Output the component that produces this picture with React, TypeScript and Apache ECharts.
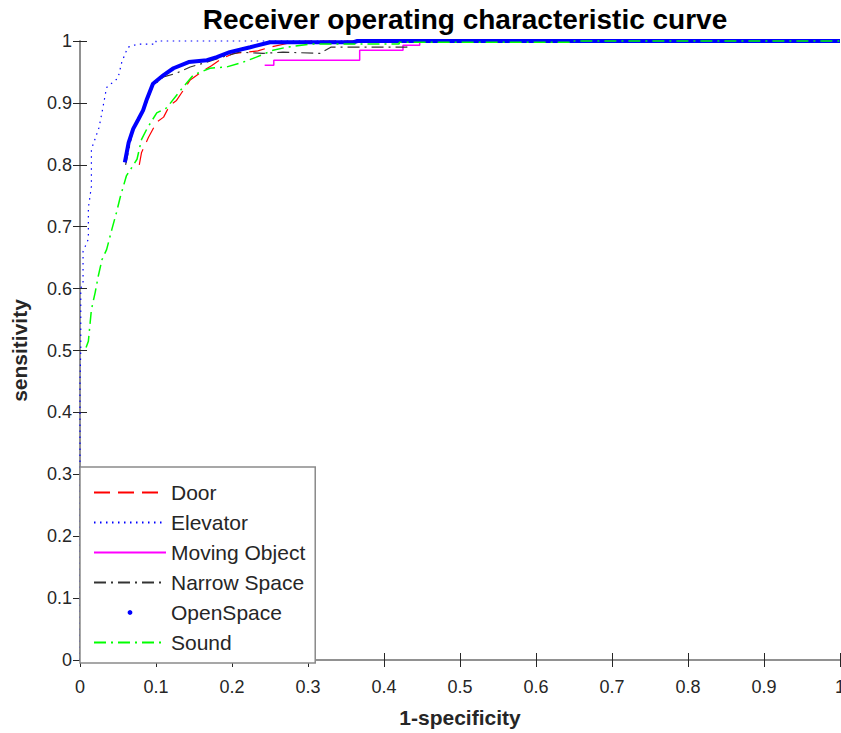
import React, { useEffect, useRef } from "react";
import * as echarts from "echarts";

const seriesNames = ["Door", "Elevator", "Moving Object", "Narrow Space", "OpenSpace", "Sound"];

const doorData: [number, number][] = [
  [0.078, 0.8], [0.081, 0.82], [0.086, 0.833], [0.09, 0.844], [0.101, 0.869], [0.11, 0.877],
  [0.118, 0.896], [0.127, 0.904], [0.145, 0.937], [0.162, 0.952], [0.173, 0.96], [0.186, 0.971],
  [0.202, 0.98], [0.219, 0.982], [0.234, 0.984], [0.25, 0.99], [0.28, 0.998], [0.3, 1], [1, 1],
];

const elevatorData: [number, number][] = [
  [0, 0], [0, 0.3], [0, 0.45], [0.001, 0.5], [0.001, 0.6], [0.004, 0.61], [0.004, 0.66],
  [0.011, 0.68], [0.011, 0.73], [0.015, 0.765], [0.015, 0.825], [0.025, 0.86], [0.029, 0.885],
  [0.035, 0.925], [0.05, 0.94], [0.055, 0.966], [0.063, 0.99], [0.076, 0.995], [0.1, 0.995],
  [0.1, 1], [1, 1],
];

const movingData: [number, number][] = [
  [0.243, 0.961], [0.255, 0.961], [0.255, 0.969], [0.368, 0.969], [0.368, 0.985], [0.425, 0.985],
  [0.425, 0.993], [0.447, 0.993], [0.447, 0.998], [0.64, 0.998], [0.64, 1], [1, 1],
];

const narrowData: [number, number][] = [
  [0.06, 0.8], [0.07, 0.858], [0.083, 0.885], [0.096, 0.928], [0.11, 0.942], [0.127, 0.948],
  [0.145, 0.958], [0.162, 0.964], [0.19, 0.975], [0.21, 0.982], [0.241, 0.98], [0.267, 0.982],
  [0.316, 0.98], [0.33, 0.99], [0.43, 0.99], [0.435, 0.998], [0.75, 0.998], [0.75, 1], [1, 1],
];

const openSpaceData: [number, number][] = [
  [0.059, 0.804], [0.064, 0.836], [0.07, 0.858], [0.077, 0.874], [0.083, 0.888], [0.088, 0.906],
  [0.096, 0.931], [0.11, 0.945], [0.123, 0.956], [0.143, 0.966], [0.167, 0.969], [0.18, 0.974],
  [0.197, 0.982], [0.224, 0.99], [0.25, 0.998], [0.36, 0.998], [0.365, 1], [1, 1],
];

const soundData: [number, number][] = [
  [0.008, 0.505], [0.011, 0.515], [0.015, 0.566], [0.02, 0.594], [0.024, 0.62], [0.029, 0.647],
  [0.035, 0.663], [0.042, 0.696], [0.048, 0.723], [0.053, 0.748], [0.061, 0.782], [0.075, 0.809],
  [0.081, 0.841], [0.088, 0.858], [0.101, 0.884], [0.114, 0.892], [0.132, 0.92], [0.149, 0.945],
  [0.171, 0.956], [0.193, 0.958], [0.215, 0.966], [0.232, 0.974], [0.254, 0.985], [0.272, 0.99],
  [0.303, 0.995], [0.42, 0.995], [0.42, 0.998], [0.65, 0.998], [0.65, 1], [1, 1],
];

const tickValues = [0, 0.1, 0.2, 0.3, 0.4, 0.5, 0.6, 0.7, 0.8, 0.9, 1];

const FONT = "Liberation Sans, Arial, sans-serif";
const AXIS_GRAY = "#8a8a8a";
const TICK_DARK = "#262626";

export default function App() {
  const ref = useRef<HTMLDivElement>(null);
  useEffect(() => {
    if (!ref.current) return;
    const chart = echarts.init(ref.current, null, { renderer: "svg" });
    const fmt = (v: number) => {
      const found = tickValues.find((t) => Math.abs(t - v) < 1e-9);
      return found === undefined ? "" : String(found);
    };
    const baseAxis = {
      type: "value" as const,
      min: 0,
      max: 1,
      interval: 0.1,
      splitLine: { show: false },
      axisLine: { show: true, lineStyle: { color: AXIS_GRAY, width: 1.5 } },
      axisTick: { show: true, inside: true, length: 7, lineStyle: { color: TICK_DARK, width: 1 } },
    };
    const lineSeries = (
      name: string,
      data: [number, number][],
      color: string,
      width: number,
      type: any,
      z: number
    ) => ({
      name,
      type: "line",
      data,
      showSymbol: false,
      symbol: "none",
      clip: false,
      z,
      itemStyle: { color },
      lineStyle: { color, width, type },
    });
    chart.setOption({
      animation: false,
      backgroundColor: "#ffffff",
      title: {
        text: "Receiver operating characteristic curve",
        left: 460,
        textAlign: "center",
        top: 0,
        textStyle: { fontFamily: FONT, fontWeight: "bold", fontSize: 28, color: "#000" },
      },
      grid: { left: 80, right: 1, top: 41, bottom: 73, containLabel: false, outerBoundsMode: "none" },
      xAxis: [
        {
          ...baseAxis,
          position: "bottom",
          name: "1-specificity",
          nameLocation: "middle",
          nameGap: 47,
          nameTextStyle: { fontFamily: FONT, fontWeight: "bold", fontSize: 21, color: "#262626" },
          axisLabel: { fontFamily: FONT, fontSize: 18, color: TICK_DARK, margin: 18, formatter: fmt },
        },
        {
          ...baseAxis,
          position: "top",
          axisLabel: { show: false },
        },
      ],
      yAxis: [
        {
          ...baseAxis,
          position: "left",
          name: "sensitivity",
          nameLocation: "middle",
          nameGap: 50,
          nameTextStyle: { fontFamily: FONT, fontWeight: "bold", fontSize: 21, color: "#262626" },
          axisLabel: { fontFamily: FONT, fontSize: 18, color: TICK_DARK, margin: 8, formatter: fmt },
        },
        {
          ...baseAxis,
          position: "right",
          axisLabel: { show: false },
        },
      ],
      legend: {
        orient: "vertical",
        left: 80,
        top: 467,
        itemWidth: 72,
        itemHeight: 6,
        itemGap: 9,
        padding: [15, 10, 10, 13],
        backgroundColor: "#ffffff",
        borderColor: AXIS_GRAY,
        borderWidth: 1.5,
        textStyle: { fontFamily: FONT, fontSize: 21, color: "#262626" },
        data: seriesNames.map((n) =>
          n === "OpenSpace"
            ? { name: n, lineStyle: { opacity: 0 } }
            : { name: n, itemStyle: { opacity: 0 } }
        ),
      },
      series: [
        lineSeries("Door", doorData, "#ff0000", 1.2, [16, 8], 2),
        lineSeries("Elevator", elevatorData, "#0000ff", 1.2, [1.5, 4.5], 3),
        lineSeries("Moving Object", movingData, "#ff00ff", 1.5, "solid", 4),
        lineSeries("Narrow Space", narrowData, "#333333", 1.2, [12, 5, 2, 5], 5),
        lineSeries("OpenSpace", openSpaceData, "#0000ff", 4, "solid", 6),
        lineSeries("Sound", soundData, "#00ff00", 1.5, [12, 5, 2, 5], 7),
      ],
    });
    return () => chart.dispose();
  }, []);
  return (
    <div
      ref={ref}
      style={{ position: "absolute", left: 0, top: 0, width: 841, height: 733 }}
    />
  );
}
